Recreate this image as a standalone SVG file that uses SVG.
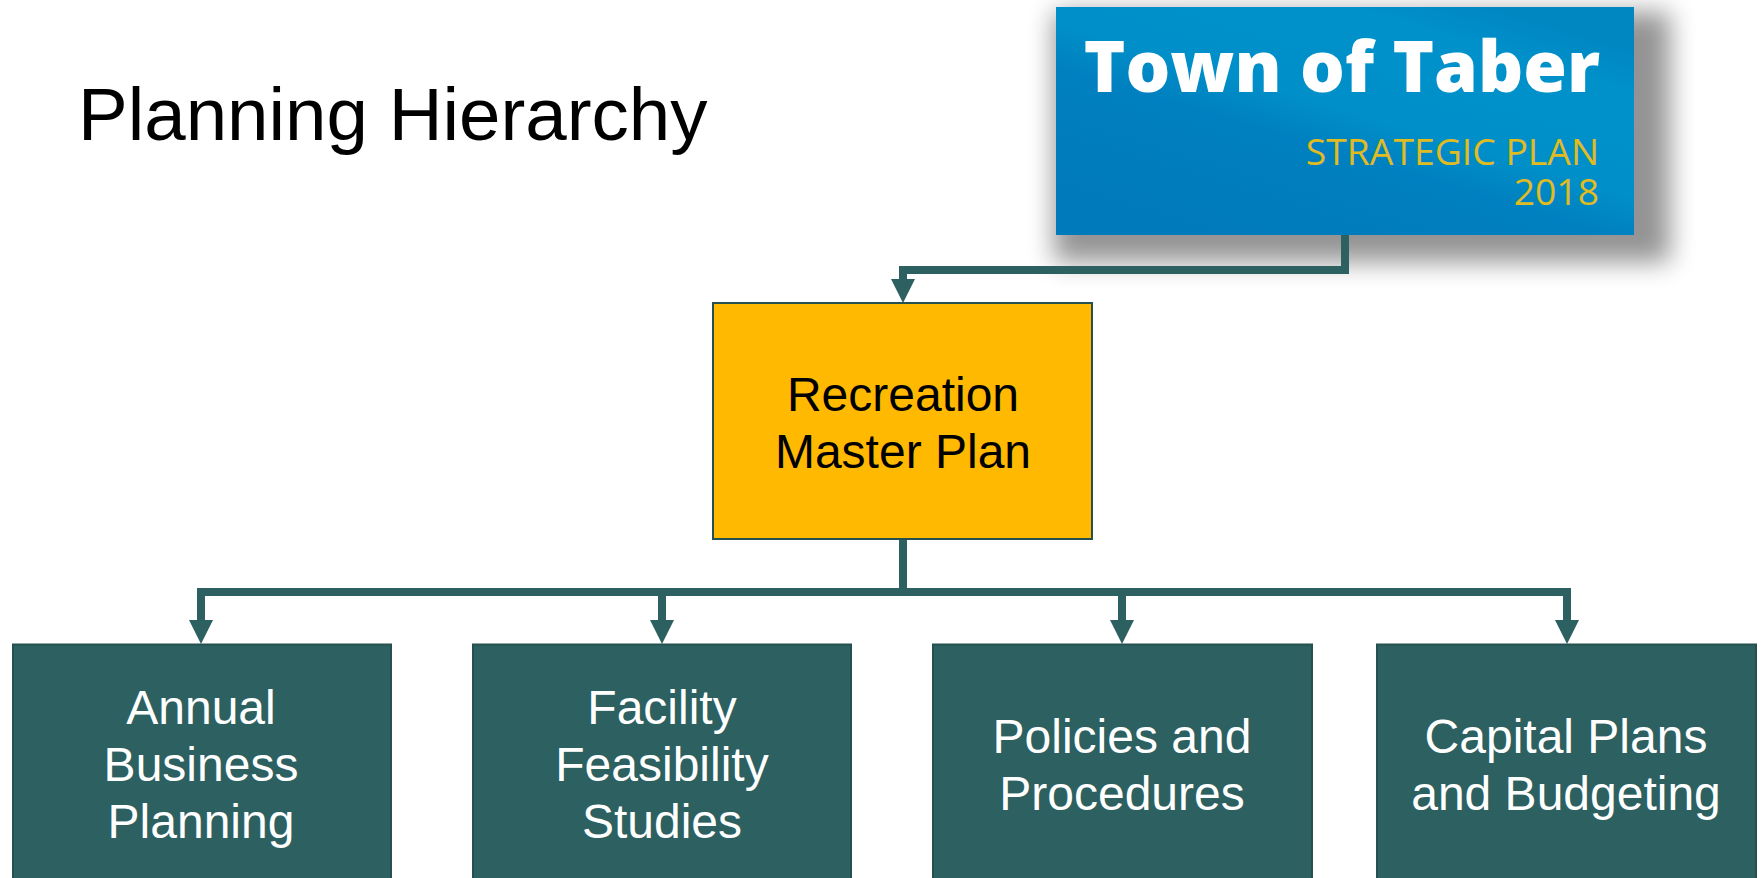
<svg xmlns="http://www.w3.org/2000/svg" width="1763" height="878" viewBox="0 0 1763 878">
<style>
.box{stroke:#24504f;stroke-width:2}
.t{font-family:"Liberation Sans",Arial,sans-serif;font-size:48px;text-anchor:middle}
.w{fill:#fff}
.c{fill:none;stroke:#2c6061;stroke-width:8}
.a{fill:#2c6061}
</style>
<defs>
<linearGradient id="bg" x1="0.1" y1="0.85" x2="0.75" y2="0"><stop offset="0" stop-color="#007abb"/><stop offset=".38" stop-color="#0080c0"/><stop offset=".52" stop-color="#008fc8"/><stop offset=".85" stop-color="#0091cb"/><stop offset="1" stop-color="#0087c2"/></linearGradient>
<filter id="sh" filterUnits="userSpaceOnUse" x="980" y="0" width="783" height="340"><feGaussianBlur stdDeviation="13"/></filter>
</defs>
<rect width="1763" height="878" fill="#fff"/>
<text id="title" x="78" y="140" font-family="'Liberation Sans',Arial,sans-serif" font-size="74.5" fill="#000">Planning Hierarchy</text>
<g id="strategic-plan">
<rect x="1054" y="12" width="616" height="250" fill="#000" opacity=".42" filter="url(#sh)"/>
<rect x="1056" y="7" width="578" height="228" fill="url(#bg)"/>
<text x="1600" y="92" text-anchor="end" font-family="'Open Sans',sans-serif" font-weight="800" font-size="70.5" fill="#fff">Town of Taber</text>
<text x="1599" y="165" text-anchor="end" font-family="'Open Sans',sans-serif" font-size="37.3" fill="#e0bb22">STRATEGIC PLAN</text>
<text x="1599" y="205" text-anchor="end" font-family="'Open Sans',sans-serif" font-size="37.3" fill="#e0bb22">2018</text>
</g>
<g id="connectors">
<path class="c" d="M1345 235V270H903V285"/>
<path class="a" d="M891 279H915L903 303Z"/>
<path class="c" d="M903 540V592"/>
<path class="c" d="M201 620V592H1567V620"/>
<path class="c" d="M662 592V620M1122 592V620"/>
<path class="a" d="M189 620H213L201 644Z"/>
<path class="a" d="M650 620H674L662 644Z"/>
<path class="a" d="M1110 620H1134L1122 644Z"/>
<path class="a" d="M1555 620H1579L1567 644Z"/>
</g>
<g id="recreation-master-plan">
<rect class="box" x="713" y="303" width="379" height="236" fill="#ffb900"/>
<text class="t" x="903" y="411">Recreation</text><text class="t" x="903" y="468">Master Plan</text>
</g>
<g id="annual-business-planning">
<rect class="box" x="13" y="644.500" width="378" height="240" fill="#2c6061"/>
<text class="t w" x="201" y="724">Annual</text><text class="t w" x="201" y="781">Business</text><text class="t w" x="201" y="838">Planning</text>
</g>
<g id="facility-feasibility-studies">
<rect class="box" x="473" y="644.500" width="378" height="240" fill="#2c6061"/>
<text class="t w" x="662" y="724">Facility</text><text class="t w" x="662" y="781">Feasibility</text><text class="t w" x="662" y="838">Studies</text>
</g>
<g id="policies-and-procedures">
<rect class="box" x="933" y="644.500" width="379" height="240" fill="#2c6061"/>
<text class="t w" x="1122" y="753">Policies and</text><text class="t w" x="1122" y="810">Procedures</text>
</g>
<g id="capital-plans-and-budgeting">
<rect class="box" x="1377" y="644.500" width="379" height="240" fill="#2c6061"/>
<text class="t w" x="1566" y="753">Capital Plans</text><text class="t w" x="1566" y="810">and Budgeting</text>
</g>
</svg>
